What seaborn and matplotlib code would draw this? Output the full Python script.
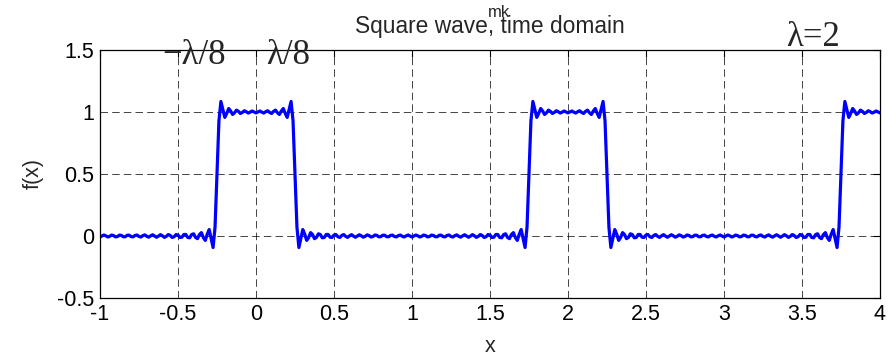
import numpy as np
import pandas as pd
import matplotlib
matplotlib.use("Agg")
import matplotlib.pyplot as plt
import seaborn as sns

# ---- data ----
period = 2.0                      # lambda
# Fourier cosine coefficients m_k, k = 0..38, of the square pulse train
mk = [0.25, 0.4502, 0.3183, 0.1501, 0.0, -0.0900, -0.1061, -0.0643, 0.0,
      0.0500, 0.0637, 0.0409, 0.0, -0.0346, -0.0455, -0.0300, 0.0,
      0.0265, 0.0354, 0.0237, 0.0, -0.0214, -0.0289, -0.0196, 0.0,
      0.0180, 0.0245, 0.0167, 0.0, -0.0155, -0.0212, -0.0145, 0.0,
      0.0136, 0.0187, 0.0129, 0.0, -0.0122, -0.0168]
x_range = [-1, 4]
x_ticks = [-1, -0.5, 0, 0.5, 1, 1.5, 2, 2.5, 3, 3.5, 4]
y_ticks = [-0.5, 0, 0.5, 1, 1.5]
x_tick_labels = ["-1", "-0.5", "0", "0.5", "1", "1.5", "2", "2.5", "3", "3.5", "4"]
y_tick_labels = ["-0.5", "0", "0.5", "1", "1.5"]

x = np.linspace(x_range[0], x_range[1], 401)
fx = np.zeros_like(x)
for k, m in enumerate(mk):
    fx = fx + m * np.cos(2 * np.pi * k * x / period)
df = pd.DataFrame({"x": x, "f(x)": fx})

sns.set_theme(style="white")
plt.rcParams["font.family"] = ["Liberation Sans", "DejaVu Sans"]

fig = plt.figure(figsize=(8.96, 3.55), dpi=100)
ax = fig.add_axes([0.1116, 0.1606, 0.8705, 0.6986])

sns.lineplot(data=df, x="x", y="f(x)", ax=ax, color="#0000ff", linewidth=2.3,
             sort=False, estimator=None)

ax.set_xlim(x_range)
ax.set_ylim(-0.5, 1.5)
ax.set_xticks(x_ticks)
ax.set_xticklabels(x_tick_labels)
ax.set_yticks(y_ticks)
ax.set_yticklabels(y_tick_labels)
ax.tick_params(direction="in", length=5, width=0.8, colors="black",
               labelsize=15.5, top=True, right=True, pad=4)
ax.grid(True, color="black", linestyle=(0, (9, 5)), linewidth=0.6, alpha=0.85)
for s in ax.spines.values():
    s.set_color("black")
    s.set_linewidth(0.9)

ax.set_xlabel("x", fontsize=15.5, labelpad=8)
ax.set_ylabel("f(x)", fontsize=15.5, labelpad=10)
ax.set_title("Square wave, time domain", fontsize=16.4, pad=12)

fig.text(0.545, 0.985, "mk", fontsize=12, ha="left", va="top")

serif = ["Liberation Serif", "DejaVu Serif"]
ax.text(-0.6, 1.39, "\u2212\u03bb/8", fontsize=25, family=serif, ha="left", va="baseline")
ax.text(0.065, 1.39, "\u03bb/8", fontsize=25, family=serif, ha="left", va="baseline")
ax.text(3.4, 1.535, "\u03bb=2", fontsize=25, family=serif, ha="left", va="baseline")

fig.savefig("out.png", dpi=100)
